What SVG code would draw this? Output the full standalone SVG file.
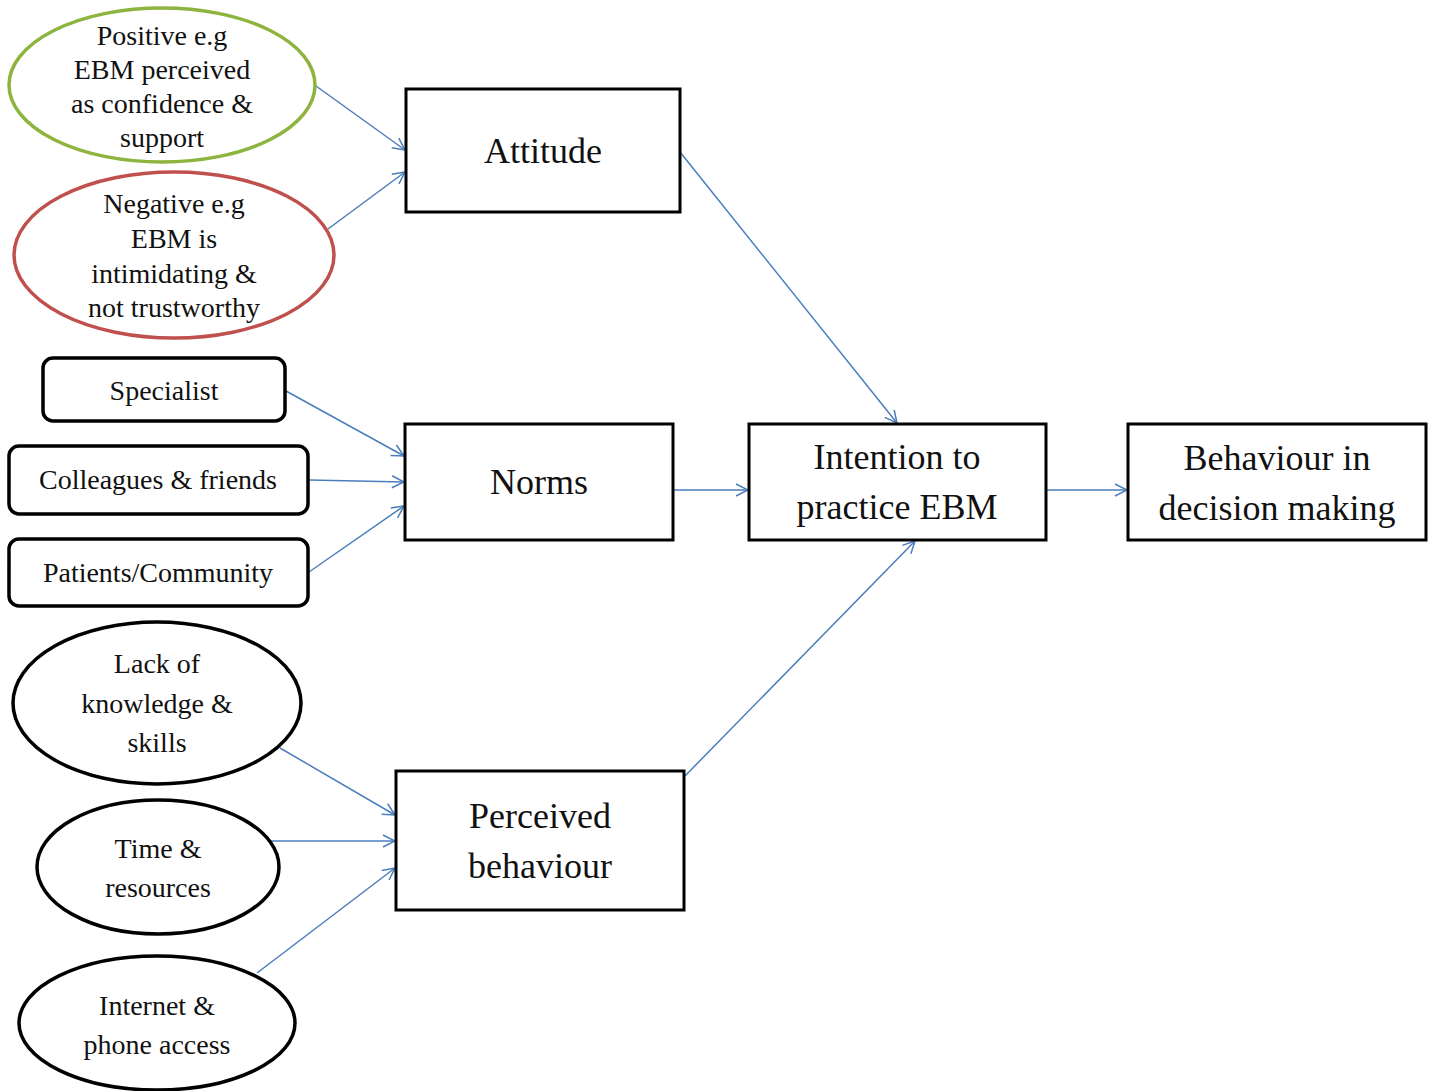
<svg xmlns="http://www.w3.org/2000/svg" width="1434" height="1091" viewBox="0 0 1434 1091">
<style>
text{font-family:"Liberation Serif","Times New Roman",serif;fill:#111;text-anchor:middle}
.s{font-size:28px}
.b{font-size:36px}
.box{fill:#fff;stroke:#000;stroke-width:3}
.rb{fill:#fff;stroke:#000;stroke-width:3.5}
.el{fill:#fff;stroke:#000;stroke-width:3.5}
.c line{stroke:#4a7ebb;stroke-width:1.5;fill:none}
</style>
<defs>
<marker id="ah" viewBox="0 0 14 14" refX="13" refY="7" markerWidth="14" markerHeight="14" markerUnits="userSpaceOnUse" orient="auto">
<polyline points="1,1 13,7 1,13" fill="none" stroke="#4a7ebb" stroke-width="1.5"/>
</marker>
</defs>
<g class="c">
<line x1="316" y1="86" x2="405" y2="150" marker-end="url(#ah)"/>
<line x1="328" y1="229" x2="405" y2="172" marker-end="url(#ah)"/>
<line x1="286" y1="391" x2="404" y2="456" marker-end="url(#ah)"/>
<line x1="309" y1="480" x2="404" y2="482" marker-end="url(#ah)"/>
<line x1="309" y1="572" x2="404" y2="506" marker-end="url(#ah)"/>
<line x1="680" y1="152" x2="897" y2="423" marker-end="url(#ah)"/>
<line x1="673" y1="490" x2="748" y2="490" marker-end="url(#ah)"/>
<line x1="1046" y1="490" x2="1127" y2="490" marker-end="url(#ah)"/>
<line x1="685" y1="776" x2="915" y2="541" marker-end="url(#ah)"/>
<line x1="280" y1="748" x2="395" y2="815" marker-end="url(#ah)"/>
<line x1="271" y1="841" x2="395" y2="841" marker-end="url(#ah)"/>
<line x1="257" y1="973" x2="395" y2="868" marker-end="url(#ah)"/>
</g>
<g id="positive">
<ellipse cx="162" cy="85" rx="153" ry="77" fill="#fff" stroke="#8db43e" stroke-width="3.5"/>
<text class="s" x="162" y="45">Positive e.g</text>
<text class="s" x="162" y="79">EBM perceived</text>
<text class="s" x="162" y="113">as confidence &amp;</text>
<text class="s" x="162" y="147">support</text>
</g>
<g id="negative">
<ellipse cx="174" cy="255" rx="160" ry="83" fill="#fff" stroke="#c0504d" stroke-width="3.5"/>
<text class="s" x="174" y="213">Negative e.g</text>
<text class="s" x="174" y="248">EBM is</text>
<text class="s" x="174" y="283">intimidating &amp;</text>
<text class="s" x="174" y="317">not trustworthy</text>
</g>
<g id="attitude">
<rect class="box" x="406" y="89" width="274" height="123"/>
<text class="b" x="543" y="163">Attitude</text>
</g>
<g id="specialist">
<rect class="rb" x="43" y="358" width="242" height="63" rx="10"/>
<text class="s" x="164" y="400">Specialist</text>
</g>
<g id="colleagues">
<rect class="rb" x="9" y="446" width="299" height="68" rx="10"/>
<text class="s" x="158" y="489">Colleagues &amp; friends</text>
</g>
<g id="patients">
<rect class="rb" x="9" y="539" width="299" height="67" rx="10"/>
<text class="s" x="158" y="582">Patients/Community</text>
</g>
<g id="norms">
<rect class="box" x="405" y="424" width="268" height="116"/>
<text class="b" x="539" y="494">Norms</text>
</g>
<g id="intention">
<rect class="box" x="749" y="424" width="297" height="116"/>
<text class="b" x="897" y="469">Intention to</text>
<text class="b" x="897" y="519">practice EBM</text>
</g>
<g id="behaviour">
<rect class="box" x="1128" y="424" width="298" height="116"/>
<text class="b" x="1277" y="470">Behaviour in</text>
<text class="b" x="1277" y="520">decision making</text>
</g>
<g id="lack">
<ellipse class="el" cx="157" cy="703" rx="144" ry="81"/>
<text class="s" x="157" y="673">Lack of</text>
<text class="s" x="157" y="713">knowledge &amp;</text>
<text class="s" x="157" y="752">skills</text>
</g>
<g id="time">
<ellipse class="el" cx="158" cy="867" rx="121" ry="67"/>
<text class="s" x="158" y="858">Time &amp;</text>
<text class="s" x="158" y="897">resources</text>
</g>
<g id="internet">
<ellipse class="el" cx="157" cy="1023" rx="138" ry="67"/>
<text class="s" x="157" y="1015">Internet &amp;</text>
<text class="s" x="157" y="1054">phone access</text>
</g>
<g id="perceived">
<rect class="box" x="396" y="771" width="288" height="139"/>
<text class="b" x="540" y="828">Perceived</text>
<text class="b" x="540" y="878">behaviour</text>
</g>
</svg>
